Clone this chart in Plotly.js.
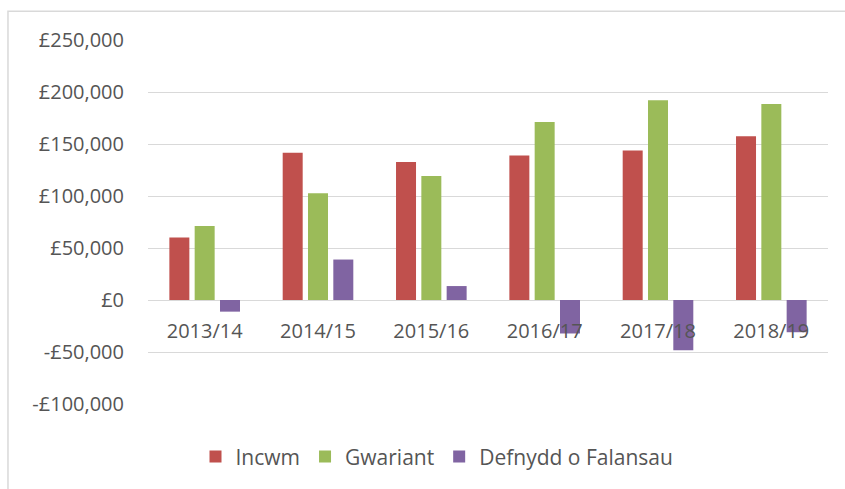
<!DOCTYPE html>
<html>
<head>
<meta charset="utf-8">
<script src="https://cdn.plot.ly/plotly-3.0.1.min.js"></script>
<style>html,body{margin:0;padding:0;background:#fff;}#chart{width:845px;height:489px;}</style>
</head>
<body>
<div id="chart"></div>
<script>
const categories = ["2013/14", "2014/15", "2015/16", "2016/17", "2017/18", "2018/19"];
const incwm = [60000, 141500, 132600, 139000, 143800, 157500];
const gwariant = [71200, 102600, 119200, 171200, 192000, 188500];
const defnydd = [-11200, 38900, 13400, -32200, -48200, -31000];
const seriesNames = ["Incwm", "Gwariant", "Defnydd o Falansau"];
const yTickVals = [-100000, -50000, 0, 50000, 100000, 150000, 200000, 250000];
const yTickText = ["-£100,000", "-£50,000", "£0", "£50,000", "£100,000", "£150,000", "£200,000", "£250,000"];

const font = "'Open Sans', 'Liberation Sans', sans-serif";
const colors = ["#C0504D", "#9BBB59", "#8064A2"];
const data = [incwm, gwariant, defnydd].map((v, i) => ({
  type: "bar",
  x: categories,
  y: v,
  name: seriesNames[i],
  marker: {color: colors[i]},
  hoverinfo: "skip"
}));

const yMin = -100000, yMax = 250000;
const layout = {
  width: 845, height: 489,
  margin: {l: 148, r: 17, t: 40, b: 83},
  paper_bgcolor: "#fff", plot_bgcolor: "#fff",
  barmode: "group", bargap: 0.33, bargroupgap: 0.21,
  font: {family: font, color: "#595959", size: 20},
  xaxis: {
    anchor: "free",
    position: (0 - yMin) / (yMax - yMin),
    showgrid: false, showline: false, zeroline: false,
    ticks: "", ticklabelstandoff: 17,
    tickfont: {family: font, size: 20, color: "#555555"}
  },
  yaxis: {
    range: [yMin, yMax],
    tickvals: yTickVals, ticktext: yTickText,
    showgrid: true, gridcolor: "#d9d9d9", gridwidth: 1,
    zeroline: true, zerolinecolor: "#d9d9d9", zerolinewidth: 1,
    showline: false, ticks: "", ticklabelstandoff: 23,
    tickfont: {family: font, size: 20, color: "#555555"}
  },
  legend: {
    orientation: "h", x: 0.425, xanchor: "center", y: -0.145, yanchor: "middle",
    font: {family: font, size: 21, color: "#555555"},
    itemwidth: 30, tracegroupgap: 0
  },
  showlegend: true,
  shapes: [{
    type: "rect", xref: "paper", yref: "paper",
    x0: -0.2059, x1: 1.6, y0: -0.6, y1: 1.0792,
    line: {color: "#d9d9d9", width: 1.5}, fillcolor: "rgba(0,0,0,0)", layer: "below"
  }]
};

Plotly.newPlot("chart", data, layout, {displayModeBar: false, staticPlot: true});
</script>
</body>
</html>
